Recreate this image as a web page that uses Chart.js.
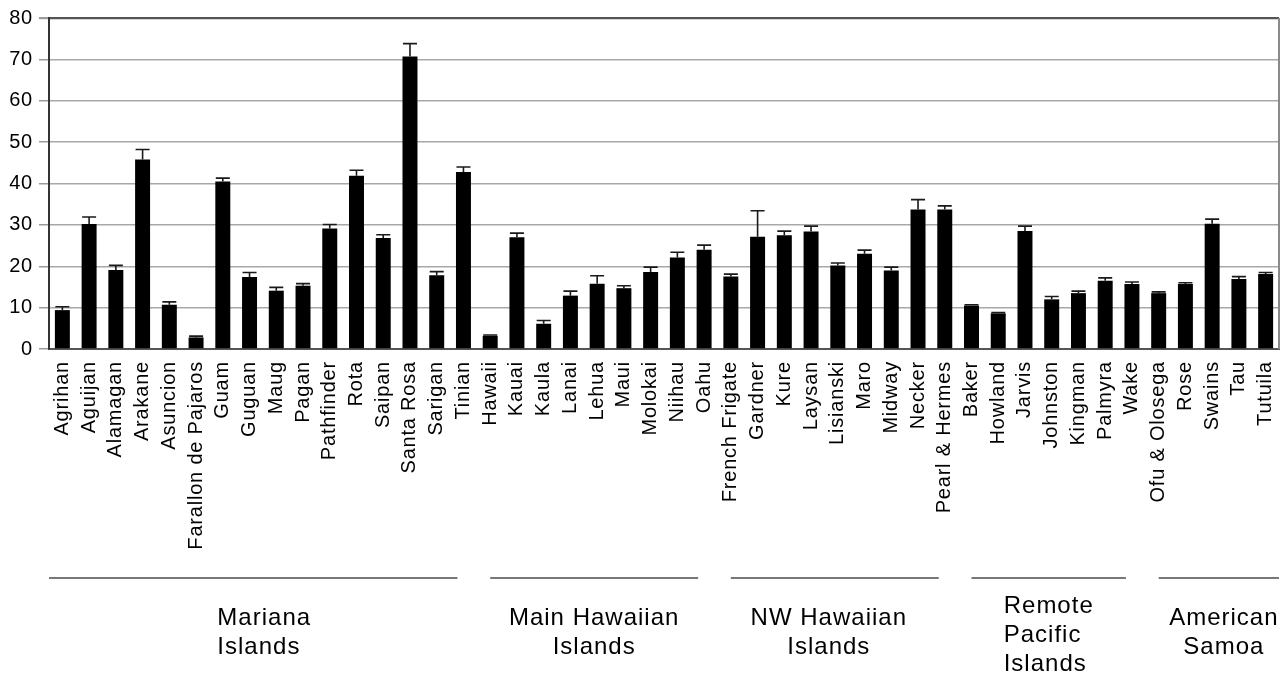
<!DOCTYPE html>
<html>
<head>
<meta charset="utf-8">
<title>Island values by archipelago</title>
<script src="https://cdn.jsdelivr.net/npm/chart.js@4.4.1/dist/chart.umd.min.js"></script>
<style>
  html, body { margin: 0; padding: 0; background: #fff; }
  #wrap { width: 1287px; height: 674px; position: relative; }
</style>
</head>
<body>
<div id="wrap"><canvas id="chart" width="1287" height="674"></canvas></div>
<script>
// Islands, in plotting order
const islands = [
  'Agrihan','Aguijan','Alamagan','Arakane','Asuncion','Farallon de Pajaros','Guam','Guguan',
  'Maug','Pagan','Pathfinder','Rota','Saipan','Santa Rosa','Sarigan','Tinian',
  'Hawaii','Kauai','Kaula','Lanai','Lehua','Maui','Molokai','Niihau','Oahu',
  'French Frigate','Gardner','Kure','Laysan','Lisianski','Maro','Midway','Necker','Pearl & Hermes',
  'Baker','Howland','Jarvis','Johnston','Kingman','Palmyra','Wake',
  'Ofu & Olosega','Rose','Swains','Tau','Tutuila'
];

// Mean value per island
const means = [
  9.4, 30.2, 19.1, 45.8, 10.7, 2.8, 40.5, 17.4,
  14.1, 15.3, 29.1, 41.9, 26.8, 70.7, 17.8, 42.8,
  3.2, 27.0, 6.1, 12.9, 15.8, 14.7, 18.6, 22.1, 24.0,
  17.5, 27.1, 27.5, 28.4, 20.2, 23.0, 19.0, 33.7, 33.7,
  10.5, 8.6, 28.5, 12.0, 13.5, 16.5, 15.7,
  13.5, 15.7, 30.3, 16.9, 18.1
];

// Upper error (standard error) per island
const stdErrors = [
  0.8, 1.7, 1.1, 2.4, 0.7, 0.3, 0.8, 1.1,
  0.8, 0.5, 1.0, 1.3, 0.8, 3.1, 0.9, 1.2,
  0.2, 1.0, 0.8, 1.1, 1.9, 0.6, 1.2, 1.3, 1.1,
  0.6, 6.3, 1.0, 1.3, 0.6, 0.9, 0.8, 2.4, 0.9,
  0.2, 0.2, 1.2, 0.7, 0.5, 0.7, 0.5,
  0.3, 0.3, 1.1, 0.6, 0.4
];

// Archipelago groups (consecutive runs of islands)
const groupNames = [
  ['Mariana', 'Islands'],
  ['Main Hawaiian', 'Islands'],
  ['NW Hawaiian', 'Islands'],
  ['Remote', 'Pacific', 'Islands'],
  ['American', 'Samoa']
];
const groupSizes = [16, 9, 9, 7, 5];

// Y axis ticks
const yTicks = [0, 10, 20, 30, 40, 50, 60, 70, 80];

// Group caption styling: alignment and horizontal nudge in px
const GROUP_ALIGN = ['left', 'center', 'center', 'left', 'center'];
const GROUP_NUDGE = [11, 0, -6, 0, 5];

const FONT = '"Liberation Sans", Arial, Helvetica, sans-serif';

// Slightly loose letter spacing for the axis text
const spacingPlugin = {
  id: 'spacing',
  beforeLayout(chart) { chart.ctx.letterSpacing = '0.8px'; },
  beforeDraw(chart) { chart.ctx.letterSpacing = '0.8px'; }
};

// Upper error bars with caps
const errorBarPlugin = {
  id: 'errorBars',
  afterDatasetsDraw(chart) {
    const ctx = chart.ctx;
    const meta = chart.getDatasetMeta(0);
    const y = chart.scales.y;
    ctx.save();
    ctx.strokeStyle = '#1a1a1a';
    ctx.lineWidth = 1.6;
    meta.data.forEach((bar, i) => {
      const x = bar.x;
      const yTop = y.getPixelForValue(means[i] + stdErrors[i]);
      const yBase = y.getPixelForValue(means[i]);
      const half = 7;
      ctx.beginPath();
      ctx.moveTo(x, yBase);
      ctx.lineTo(x, yTop);
      ctx.moveTo(x - half, yTop);
      ctx.lineTo(x + half, yTop);
      ctx.stroke();
    });
    ctx.restore();
  }
};

// Plot frame on the right and group brackets with their names below the axis
const groupPlugin = {
  id: 'groups',
  afterDraw(chart) {
    const ctx = chart.ctx;
    const area = chart.chartArea;
    const x = chart.scales.x;
    ctx.save();
    // right frame edge
    ctx.strokeStyle = '#8a8a8a';
    ctx.lineWidth = 2;
    ctx.beginPath();
    ctx.moveTo(area.right, area.top);
    ctx.lineTo(area.right, area.bottom);
    ctx.stroke();

    const n = islands.length;
    let first = 0;
    const lineY = 578;
    ctx.font = '24px ' + FONT;
    ctx.letterSpacing = '1px';
    ctx.fillStyle = '#000';
    ctx.textBaseline = 'alphabetic';
    groupSizes.forEach((size, g) => {
      const last = first + size - 1;
      const x0 = first === 0 ? area.left : x.getPixelForValue(first);
      const x1 = last === n - 1 ? area.right : x.getPixelForValue(last) - 6;
      ctx.strokeStyle = '#777';
      ctx.lineWidth = 2;
      ctx.beginPath();
      ctx.moveTo(x0, lineY);
      ctx.lineTo(x1, lineY);
      ctx.stroke();

      const lines = groupNames[g];
      const mid = (x0 + x1) / 2 + GROUP_NUDGE[g];
      const lineH = 29;
      const startY = lines.length === 3 ? 613 : 625;
      if (GROUP_ALIGN[g] === 'left') {
        const widest = Math.max(...lines.map(t => ctx.measureText(t).width));
        const left = mid - widest / 2;
        ctx.textAlign = 'left';
        lines.forEach((t, k) => ctx.fillText(t, left, startY + k * lineH));
      } else {
        ctx.textAlign = 'center';
        lines.forEach((t, k) => ctx.fillText(t, mid, startY + k * lineH));
      }
      first = last + 1;
    });
    ctx.restore();
  }
};

new Chart(document.getElementById('chart'), {
  type: 'bar',
  data: {
    labels: islands,
    datasets: [{
      data: means,
      backgroundColor: '#000',
      borderWidth: 0,
      barPercentage: 0.56,
      categoryPercentage: 1.0
    }]
  },
  options: {
    responsive: false,
    animation: false,
    devicePixelRatio: 1,
    layout: { padding: { top: 12, right: 8, left: 0, bottom: 0 } },
    plugins: {
      legend: { display: false },
      tooltip: { enabled: false }
    },
    scales: {
      x: {
        grid: { display: false, drawTicks: false },
        border: { display: true, color: '#555', width: 2 },
        ticks: {
          autoSkip: false,
          maxRotation: 90,
          minRotation: 90,
          padding: 12,
          color: '#000',
          font: { family: FONT, size: 20 }
        },
        afterFit(scale) {
          scale.height = 325;
          scale.paddingLeft = 0;
          scale.paddingRight = 0;
        }
      },
      y: {
        min: 0,
        max: 80,
        afterBuildTicks(scale) { scale.ticks = yTicks.map(v => ({ value: v })); },
        grid: {
          color: c => (c.tick && c.tick.value === 80) ? '#555' : '#a8a8a8',
          lineWidth: c => (c.tick && c.tick.value === 80) ? 2.2 : 1.5,
          tickLength: 10,
          tickColor: '#9a9a9a'
        },
        border: { display: true, color: '#333', width: 2 },
        ticks: {
          padding: 6,
          color: '#000',
          font: { family: FONT, size: 20 }
        },
        afterFit(scale) { scale.width = 49; }
      }
    }
  },
  plugins: [spacingPlugin, errorBarPlugin, groupPlugin]
});
</script>
</body>
</html>
